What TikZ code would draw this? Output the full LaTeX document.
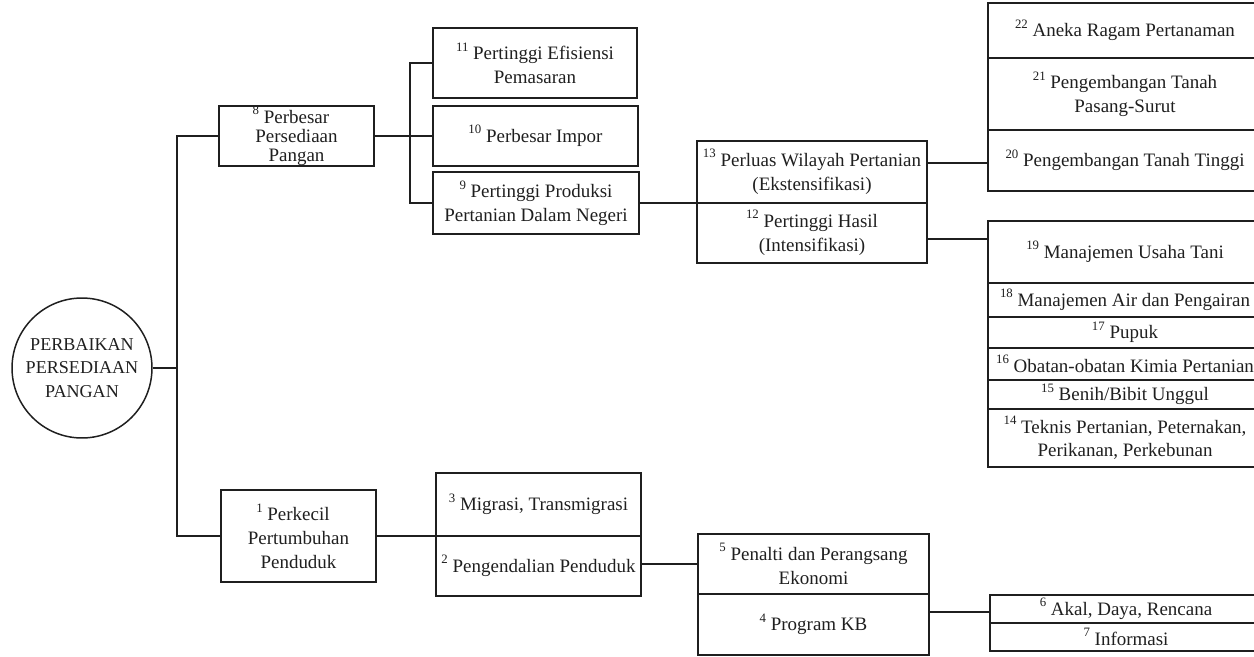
\documentclass[tikz,border=0pt]{standalone}
\usepackage{fontspec}
\setmainfont{Liberation Serif}
\usetikzlibrary{calc}
\newcommand\sn[1]{\raisebox{0.45em}{\fontsize{7.3}{7.3}\selectfont #1}}
\begin{document}
\begin{tikzpicture}[x=0.02cm,y=-0.02cm,
  line width=0.85pt, color=black!88,
  bx/.style={draw, rectangle, inner sep=0pt, align=center, font=\fontsize{10.8}{13.5}\selectfont},
  tight/.style={font=\fontsize{10.8}{10.8}\selectfont},
  wide/.style={font=\fontsize{10.8}{14.2}\selectfont},
  span/.style n args={4}{minimum width={(#3-#1)*0.02cm}, minimum height={(#4-#2)*0.02cm},
     at={({(#1+#3)/2},{(#2+#4)/2})}}
]
\useasboundingbox (0,0) rectangle (1254,656);

% root
\node[draw, circle, minimum size=2.8cm, inner sep=0pt, align=center,
  font=\fontsize{10.3}{13.3}\selectfont] (root) at (82,368) {PERBAIKAN\\PERSEDIAAN\\PANGAN};
\coordinate (tr) at (177,368);

% level 1
\node[bx, tight, span={219}{106}{374}{166}] (b8) {\llap{\sn{8}\ }Perbesar\\Persediaan\\Pangan};
\node[bx, span={221}{490}{376}{582}] (b1) {\llap{\sn{1}\ }Perkecil\\Pertumbuhan\\Penduduk};

% level 2 upper
\node[bx, span={433}{28}{637}{98}] (b11) {\sn{11} Pertinggi Efisiensi\\Pemasaran};
\node[bx, span={433}{106}{638}{166}] (b10) {\sn{10} Perbesar Impor};
\node[bx, span={433}{172}{639}{234}] (b9) {\sn{9} Pertinggi Produksi\\Pertanian Dalam Negeri};
\coordinate (sp) at (410,136);

% level 3 upper
\node[bx, wide, span={697}{141}{927}{203}] (b13) {\sn{13} Perluas Wilayah Pertanian\\(Ekstensifikasi)};
\node[bx, wide, span={697}{203}{927}{263}] (b12) {\sn{12} Pertinggi Hasil\\(Intensifikasi)};
\coordinate (j13) at (927,163);
\coordinate (j12) at (927,239);

% level 4 upper
\node[bx, span={988}{3}{1262}{58}] (b22) {\sn{22} Aneka Ragam Pertanaman};
\node[bx, span={988}{58}{1262}{130}] (b21) {\sn{21} Pengembangan Tanah\\Pasang-Surut};
\node[bx, span={988}{130}{1262}{191}] (b20) {\sn{20} Pengembangan Tanah Tinggi};

\node[bx, span={988}{221}{1262}{283}] (b19) {\sn{19} Manajemen Usaha Tani};
\node[bx, span={988}{283}{1262}{317}] (b18) {\sn{18} Manajemen Air dan Pengairan};
\node[bx, span={988}{317}{1262}{348}] (b17) {\sn{17} Pupuk};
\node[bx, span={988}{348}{1262}{380}] (b16) {\sn{16} Obatan-obatan Kimia Pertanian};
\node[bx, span={988}{380}{1262}{409}] (b15) {\sn{15} Benih/Bibit Unggul};
\node[bx, span={988}{409}{1262}{467}] (b14) {\sn{14} Teknis Pertanian, Peternakan,\\Perikanan, Perkebunan};

% lower branch
\node[bx, span={436}{473}{641}{536}] (b3) {\sn{3} Migrasi, Transmigrasi};
\node[bx, span={436}{536}{641}{596}] (b2) {\sn{2} Pengendalian Penduduk};
\node[bx, span={698}{534}{929}{594}] (b5) {\sn{5} Penalti dan Perangsang\\Ekonomi};
\node[bx, span={698}{594}{929}{655}] (b4) {\sn{4} Program KB};
\node[bx, span={990}{595}{1262}{623}] (b6) {\sn{6} Akal, Daya, Rencana};
\node[bx, span={990}{623}{1262}{651}] (b7) {\sn{7} Informasi};
\coordinate (j4) at (929,612);

% connectors
\draw (root.east) -- (tr);
\draw (b8.west) -| (tr);
\draw (b1.west) -| (tr);
\draw (b8.east) -- (b10.west);
\draw (b11.west) -| (sp) |- (b9.west);
\draw (b9.east) -- (b9.east -| b13.south west);
\draw (j13) -- (j13 -| b20.west);
\draw (j12) -- (j12 -| b19.west);
\draw (b1.east) -- (b1.east -| b3.south west);
\draw (b2.east |- b5.west) -- (b5.west);
\draw (j4) -- (j4 -| b6.west);
\end{tikzpicture}
\end{document}
